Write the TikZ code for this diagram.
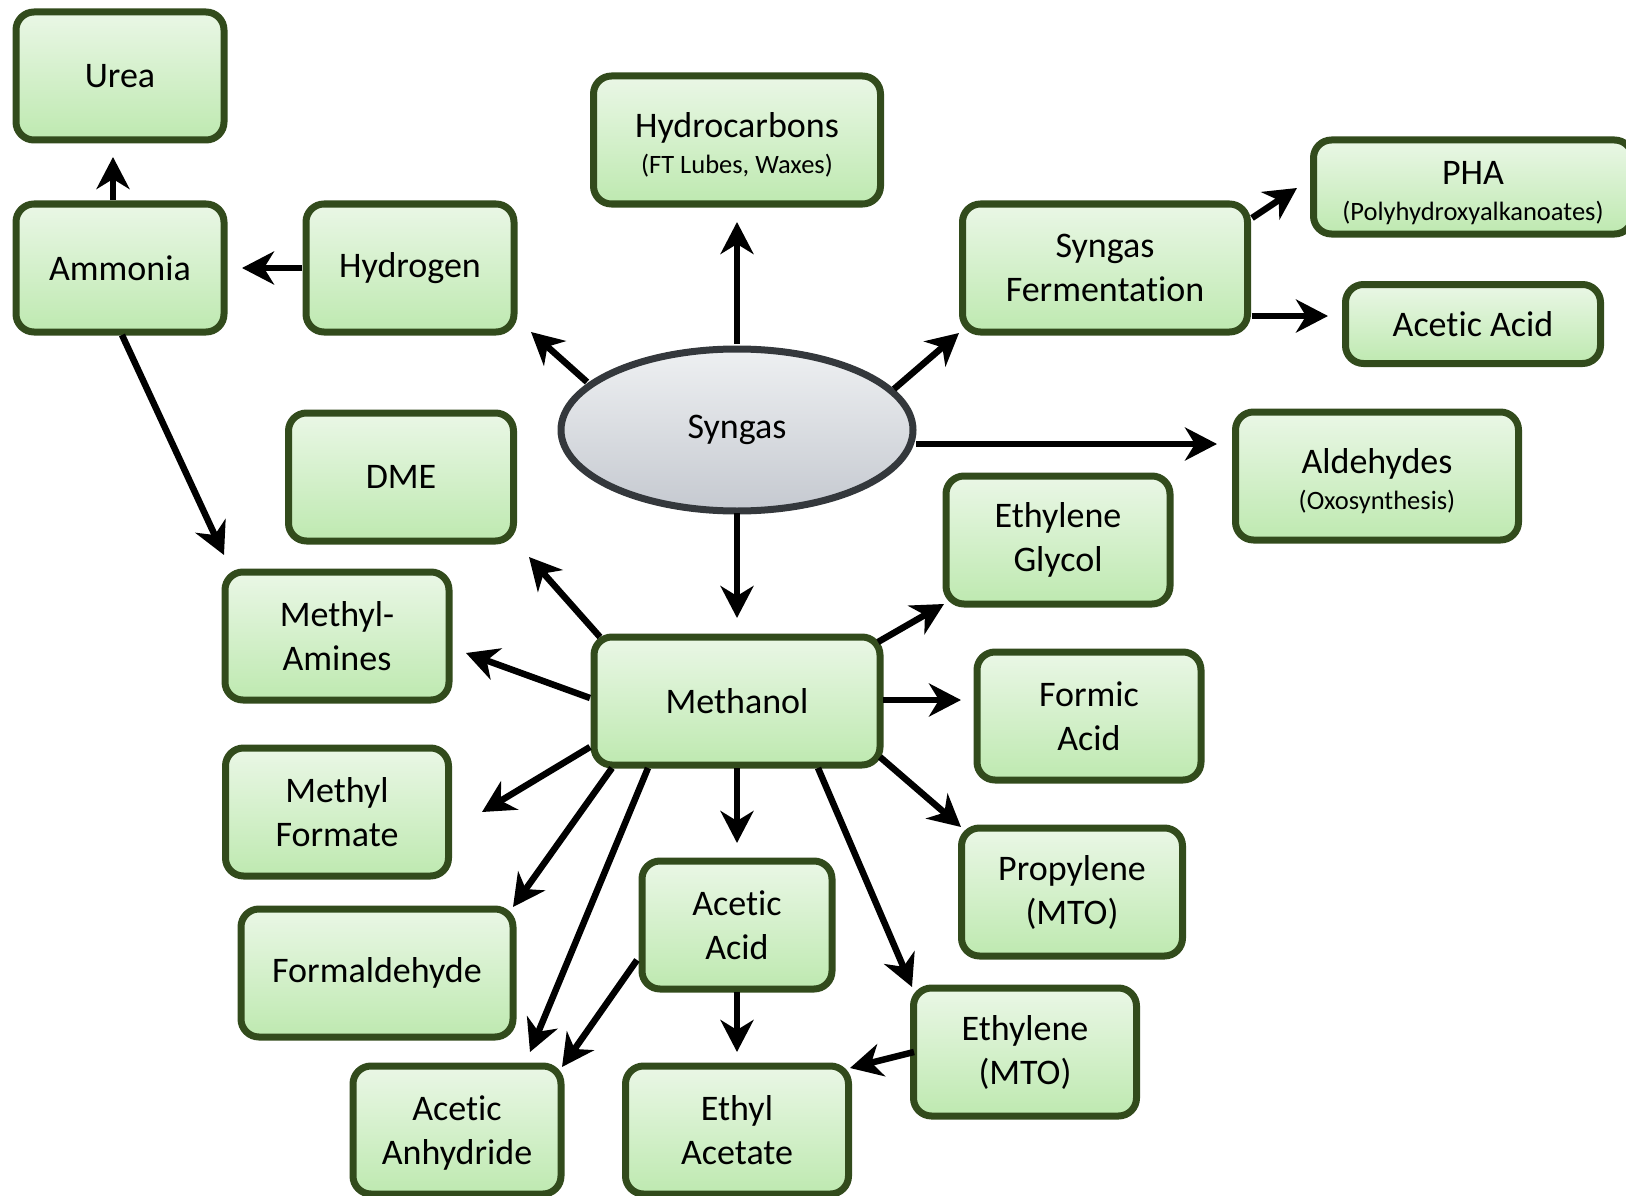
\documentclass[tikz,border=0pt]{standalone}
\usepackage{fontspec}
\setmainfont{Carlito}[Ligatures=NoCommon]
\usetikzlibrary{arrows.meta,shapes.geometric}
\definecolor{bordergreen}{RGB}{50,75,28}
\definecolor{gtop}{RGB}{234,247,230}
\definecolor{gbot}{RGB}{190,233,176}
\definecolor{ellborder}{RGB}{52,56,60}
\definecolor{etop}{RGB}{238,240,242}
\definecolor{ebot}{RGB}{197,201,208}
\newcommand\mainsz{\fontsize{36}{44}\selectfont}
\newcommand\subsz{\fontsize{26.5}{32}\selectfont}
\newcommand\twoline[2]{\raisebox{-7pt}[\height][\depth]{\begin{tabular}{@{}c@{}}#1\\[-8pt]{\subsz #2}\end{tabular}}}
\newcommand\lowered[1]{\raisebox{-4pt}[\height][\depth]{\begin{tabular}{@{}c@{}}#1\end{tabular}}}
\begin{document}
\begin{tikzpicture}[x=1pt,y=-1pt,
  box/.style={draw=bordergreen,line width=7pt,rounded corners=18pt,top color=gtop,bottom color=gbot,
    minimum width=#1,minimum height=128pt,inner sep=0pt,align=center,font=\mainsz},
  arr/.style={line width=6.5pt,-{Stealth[length=32pt,width=33pt,inset=10pt]}}]
\useasboundingbox (0,0) rectangle (1626,1196);
\clip (0,0) rectangle (1626,1196);

\node[box=208] (urea) at (120,76) {Urea};
\node[box=208] (amm) at (120,268) {Ammonia};
\node[box=208] (hyd) at (410,268) {Hydrogen};
\node[box=287] (hc) at (737,140) {\twoline{Hydrocarbons}{(FT Lubes, Waxes)}};
\node[box=285] (sf) at (1105,268) {Syngas\\Fermentation};
\node[box=319,minimum height=94pt] (pha) at (1473,187) {\twoline{PHA}{(Polyhydroxyalkanoates)}};
\node[box=255,minimum height=79pt] (aca1) at (1473,324) {Acetic Acid};
\node[ellipse,draw=ellborder,line width=7pt,top color=etop,bottom color=ebot,minimum width=352pt,minimum height=162pt,inner sep=0pt,font=\mainsz] (syn) at (737,430) {Syngas};
\node[box=283] (ald) at (1377,476) {\twoline{Aldehydes}{(Oxosynthesis)}};
\node[box=225] (dme) at (401,477) {DME};
\node[box=224] (eg) at (1058,540) {Ethylene\\Glycol};
\node[box=224] (ma) at (337,636) {Methyl-\\Amines};
\node[box=286] (meth) at (737,701) {Methanol};
\node[box=224] (fa) at (1089,716) {Formic\\Acid};
\node[box=223] (mf) at (337,812) {Methyl\\Formate};
\node[box=221] (prop) at (1072,892) {Propylene\\(MTO)};
\node[box=272] (fald) at (377,973) {Formaldehyde};
\node[box=190] (aca2) at (737,925) {Acetic\\Acid};
\node[box=223] (eth) at (1025,1052) {Ethylene\\(MTO)};
\node[box=208] (aa) at (457,1130) {\lowered{Acetic\\Anhydride}};
\node[box=223] (ea) at (737,1130) {\lowered{Ethyl\\Acetate}};

\draw[arr] ([shift={(-7,-68)}]amm.center) -- ([shift={(-7,81)}]urea.center);
\draw[arr] ([shift={(-108,0)}]hyd.center) -- ([shift={(122,0)}]amm.center);
\draw[arr] ([shift={(2,67)}]amm.center) -- ([shift={(-113,-81)}]ma.center);
\draw[arr] ([shift={(-150,-48)}]syn.center) -- ([shift={(121,64)}]hyd.center);
\draw[arr] ([shift={(0,-86)}]syn.center) -- ([shift={(0,82)}]hc.center);
\draw[arr] ([shift={(157,-41)}]syn.center) -- ([shift={(-146,65)}]sf.center);
\draw[arr] ([shift={(147,-50)}]sf.center) -- ([shift={(-176,1)}]pha.center);
\draw[arr] ([shift={(147,48)}]sf.center) -- ([shift={(-145,-8)}]aca1.center);
\draw[arr] ([shift={(179,14)}]syn.center) -- ([shift={(-160,-32)}]ald.center);
\draw[arr] ([shift={(0,83)}]syn.center) -- ([shift={(0,-83)}]meth.center);
\draw[arr] ([shift={(-137,-64)}]meth.center) -- ([shift={(128,80)}]dme.center);
\draw[arr] ([shift={(-147,-3)}]meth.center) -- ([shift={(129,17)}]ma.center);
\draw[arr] ([shift={(-147,46)}]meth.center) -- ([shift={(145,0)}]mf.center);
\draw[arr] ([shift={(-125,67)}]meth.center) -- ([shift={(136,-66)}]fald.center);
\draw[arr] ([shift={(-89,67)}]meth.center) -- ([shift={(73,-78)}]aa.center);
\draw[arr] ([shift={(0,67)}]meth.center) -- ([shift={(0,-82)}]aca2.center);
\draw[arr] ([shift={(81,67)}]meth.center) -- ([shift={(-113,-65)}]eth.center);
\draw[arr] ([shift={(143,56)}]meth.center) -- ([shift={(-111,-65)}]prop.center);
\draw[arr] ([shift={(146,-1)}]meth.center) -- ([shift={(-128,-16)}]fa.center);
\draw[arr] ([shift={(141,-59)}]meth.center) -- ([shift={(-114,64)}]eg.center);
\draw[arr] ([shift={(-100,35)}]aca2.center) -- ([shift={(105,-63)}]aa.center);
\draw[arr] ([shift={(0,67)}]aca2.center) -- ([shift={(0,-78)}]ea.center);
\draw[arr] ([shift={(-111,0)}]eth.center) -- ([shift={(113,-62)}]ea.center);
\end{tikzpicture}
\end{document}
